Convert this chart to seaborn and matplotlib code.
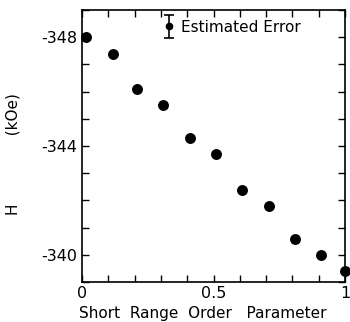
import matplotlib
matplotlib.use("Agg")
import matplotlib.pyplot as plt
import seaborn as sns
import pandas as pd
import numpy as np
from matplotlib.ticker import MultipleLocator, FixedLocator

sns.set_theme(style="ticks")
plt.rcParams['font.family'] = ['DejaVu Sans']
plt.rcParams['text.color'] = 'black'
plt.rcParams['axes.labelcolor'] = 'black'
plt.rcParams['xtick.color'] = 'black'
plt.rcParams['ytick.color'] = 'black'

order_param = [0.015, 0.12, 0.21, 0.31, 0.41, 0.51, 0.61, 0.71, 0.81, 0.91, 1.0]
field_kOe = [-348.0, -347.4, -346.1, -345.5, -344.3, -343.7, -342.4, -341.8, -340.6, -340.0, -339.4]

err_x = 0.33
err_y = -348.4
err_size = 0.43

df = pd.DataFrame({"x": order_param, "H": field_kOe})

fig = plt.figure(figsize=(3.5, 3.22), dpi=100)
ax = fig.add_axes([0.234, 0.124, 0.752, 0.845])
sns.scatterplot(data=df, x="x", y="H", ax=ax, s=62, color="black",
                edgecolor="black", linewidth=0, legend=False, clip_on=False, zorder=3)

ax.errorbar([err_x], [err_y], yerr=[err_size], fmt="o", color="black",
            markersize=4.5, capsize=3.3, elinewidth=1.2, capthick=1.2)
ax.text(err_x + 0.045, err_y + 0.05, "Estimated Error", fontsize=11, va="center", ha="left",
        color="black")

ax.set_xlim(0, 1)
ax.set_ylim(-339, -349)
ax.xaxis.set_major_locator(FixedLocator([0, 0.5, 1]))
ax.set_xticklabels(["0", "0.5", "1"])
ax.xaxis.set_minor_locator(MultipleLocator(0.1))
ax.yaxis.set_major_locator(FixedLocator([-348, -344, -340]))
ax.set_yticklabels(["-348", "-344", "-340"])
ax.yaxis.set_minor_locator(MultipleLocator(1))
ax.tick_params(which="both", direction="in", top=True, right=True, length=5,
               width=1, color="black", labelcolor="black", labelsize=11.5, pad=3)
for s in ax.spines.values():
    s.set_linewidth(1.2)
    s.set_color("black")
ax.set_xlabel("Short  Range  Order   Parameter", fontsize=11, color="black")
ax.xaxis.set_label_coords(0.46, -0.088)
ax.set_ylabel("H              (kOe)", fontsize=11, color="black")
ax.yaxis.set_label_coords(-0.235, 0.47)
ax.set_facecolor("white")
fig.patch.set_facecolor("white")
fig.savefig("out.png", dpi=100)
